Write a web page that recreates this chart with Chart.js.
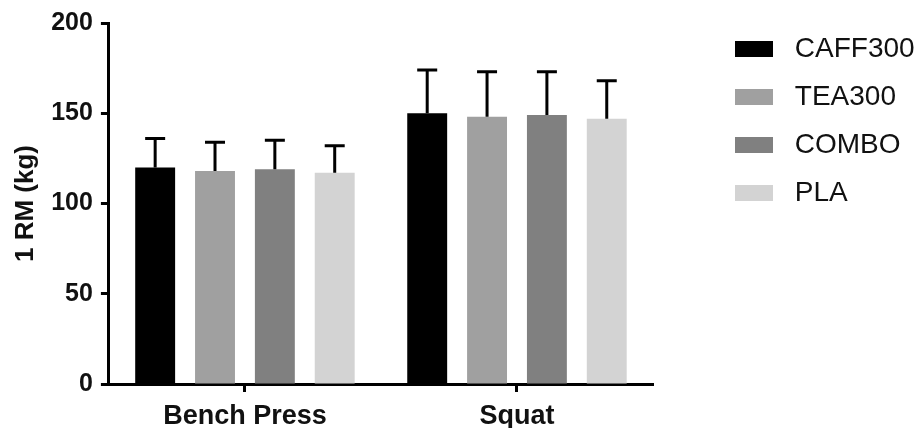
<!DOCTYPE html>
<html lang="en">
<head>
<meta charset="UTF-8">
<title>1 RM by condition</title>
<script src="https://cdn.jsdelivr.net/npm/chart.js"></script>
<style>
  body { margin: 0; background: #fff; }
</style>
</head>
<body>
<canvas id="chart" width="922" height="428"></canvas>
<script>
// data (means, upper SD)
const exercises = ['Bench Press', 'Squat'];
const groups = ['CAFF300', 'TEA300', 'COMBO', 'PLA'];
const caff300 = [120, 150];
const tea300 = [118, 148];
const combo = [119, 149];
const pla = [117, 147];
const caff300Sd = [16, 24];
const tea300Sd = [16, 25];
const comboSd = [16, 24];
const plaSd = [15, 21];
const yTicks = [0, 50, 100, 150, 200];
const colors = ['#000000', '#a0a0a0', '#808080', '#d3d3d3'];

const FONT = 'Arial, "Liberation Sans", sans-serif';
const means = [caff300, tea300, combo, pla];
const sds = [caff300Sd, tea300Sd, comboSd, plaSd];

// only the upper whisker is drawn, like the original
const errorBars = {
  id: 'errorBars',
  afterDatasetsDraw(chart) {
    const ctx = chart.ctx;
    const yScale = chart.scales.y;
    ctx.save();
    ctx.strokeStyle = '#000';
    ctx.lineWidth = 3;
    chart.data.datasets.forEach((ds, i) => {
      chart.getDatasetMeta(i).data.forEach((bar, j) => {
        const top = yScale.getPixelForValue(ds.data[j] + ds.sd[j]);
        ctx.beginPath();
        ctx.moveTo(bar.x, bar.y);
        ctx.lineTo(bar.x, top);
        ctx.moveTo(bar.x - 10, top);
        ctx.lineTo(bar.x + 10, top);
        ctx.stroke();
      });
    });
    ctx.restore();
  }
};

// reserve a wide strip on the right for the legend, then push the items over
const legendWidth = 269;
const legendGap = 62;
const legendTop = 15;
const legendPlace = {
  id: 'legendPlace',
  beforeInit(chart) {
    const fit = chart.legend.fit;
    chart.legend.fit = function () {
      fit.call(this);
      this.width = legendWidth;
    };
  },
  afterLayout(chart) {
    chart.legend.left = chart.chartArea.right + legendGap;
    chart.legend.top = legendTop;
  }
};

new Chart(document.getElementById('chart'), {
  type: 'bar',
  data: {
    labels: exercises,
    datasets: groups.map((g, i) => ({
      label: g,
      data: means[i],
      sd: sds[i],
      backgroundColor: colors[i],
      borderWidth: 0,
      categoryPercentage: 0.88,
      barPercentage: 0.667
    }))
  },
  options: {
    responsive: false,
    animation: false,
    layout: { padding: { top: 23, left: 10, right: 0, bottom: -13 } },
    plugins: {
      tooltip: { enabled: false },
      legend: {
        position: 'right',
        align: 'start',
        labels: {
          boxWidth: 38,
          boxHeight: 16,
          padding: 20,
          color: '#111',
          font: { family: FONT, size: 28 },
          generateLabels(chart) {
            return Chart.defaults.plugins.legend.labels.generateLabels(chart)
              .map(item => Object.assign(item, { text: ' ' + item.text, lineWidth: 0 }));
          }
        }
      }
    },
    scales: {
      x: {
        offset: true,
        grid: {
          offset: false,
          drawOnChartArea: false,
          drawTicks: true,
          tickLength: 8,
          tickWidth: 3,
          tickColor: '#000'
        },
        border: { display: true, color: '#000', width: 3 },
        ticks: {
          color: '#111',
          padding: 11,
          font: { family: FONT, size: 27, weight: 'bold', lineHeight: 1 }
        }
      },
      y: {
        min: 0,
        max: 200,
        afterBuildTicks(scale) {
          scale.ticks = yTicks.map(v => ({ value: v }));
        },
        grid: {
          drawOnChartArea: false,
          drawTicks: true,
          tickLength: 8,
          tickWidth: 3,
          tickColor: '#000'
        },
        border: { display: true, color: '#000', width: 3 },
        ticks: {
          color: '#111',
          padding: 8,
          font: { family: FONT, size: 25, weight: 'bold' }
        },
        title: {
          display: true,
          text: '1 RM (kg)',
          color: '#111',
          padding: { top: 0, bottom: 2 },
          font: { family: FONT, size: 26, weight: 'bold' }
        }
      }
    }
  },
  plugins: [errorBars, legendPlace]
});
</script>
</body>
</html>
